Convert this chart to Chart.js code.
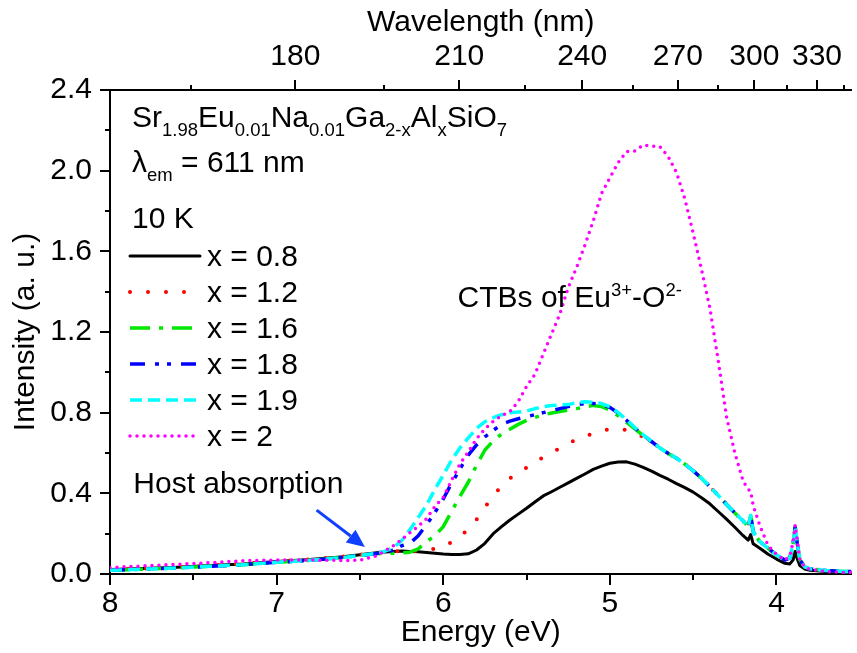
<!DOCTYPE html>
<html><head><meta charset="utf-8">
<script src="https://cdn.jsdelivr.net/npm/chart.js@4.4.1/dist/chart.umd.min.js"></script>
<style>html,body{margin:0;padding:0;background:#fff;}#wrap{width:857px;height:653px;}</style>
</head><body><div id="wrap"><canvas id="c" width="857" height="653"></canvas></div>
<script>
// ---------- data ----------
const energy = [8.0,7.8,7.6,7.4,7.2,7.0,6.8,6.6,6.5,6.4,6.35,6.3,6.25,6.2,6.15,6.1,6.05,6.0,5.95,5.9,5.85,5.8,5.75,5.7,5.65,5.6,5.55,5.5,5.45,5.4,5.35,5.3,5.25,5.2,5.15,5.1,5.05,5.0,4.95,4.9,4.85,4.8,4.75,4.7,4.65,4.6,4.55,4.5,4.45,4.4,4.35,4.3,4.25,4.2,4.17,4.155,4.14,4.1,4.05,4.0,3.95,3.92,3.9,3.888,3.875,3.86,3.83,3.8,3.7,3.6,3.55];

const intensityX08 = [0.022,0.027,0.034,0.042,0.05,0.062,0.072,0.085,0.095,0.105,0.109,0.112,0.114,0.112,0.11,0.107,0.103,0.099,0.097,0.097,0.1,0.119,0.152,0.2,0.235,0.268,0.297,0.326,0.357,0.387,0.408,0.43,0.452,0.474,0.496,0.519,0.535,0.549,0.555,0.556,0.545,0.529,0.51,0.489,0.47,0.448,0.428,0.406,0.378,0.348,0.31,0.272,0.232,0.19,0.168,0.195,0.15,0.128,0.098,0.074,0.053,0.05,0.07,0.112,0.075,0.042,0.024,0.018,0.012,0.008,0.007];

const intensityX12 = [0.022,0.027,0.034,0.043,0.051,0.063,0.073,0.086,0.096,0.105,0.109,0.112,0.113,0.113,0.115,0.118,0.125,0.137,0.158,0.185,0.222,0.27,0.33,0.39,0.435,0.474,0.505,0.527,0.553,0.58,0.602,0.623,0.646,0.668,0.683,0.696,0.71,0.719,0.72,0.714,0.70,0.68,0.655,0.625,0.598,0.574,0.545,0.512,0.475,0.433,0.39,0.345,0.303,0.263,0.235,0.29,0.21,0.16,0.127,0.094,0.069,0.08,0.15,0.235,0.15,0.07,0.035,0.026,0.017,0.013,0.012];

const intensityX16 = [0.018,0.024,0.03,0.038,0.046,0.058,0.068,0.082,0.092,0.1,0.102,0.103,0.104,0.108,0.125,0.16,0.19,0.235,0.31,0.385,0.455,0.54,0.615,0.66,0.694,0.718,0.742,0.762,0.776,0.79,0.798,0.806,0.813,0.82,0.828,0.836,0.83,0.813,0.785,0.752,0.72,0.686,0.655,0.625,0.598,0.574,0.545,0.512,0.475,0.433,0.39,0.345,0.303,0.263,0.235,0.29,0.21,0.16,0.127,0.094,0.069,0.08,0.15,0.235,0.15,0.07,0.035,0.026,0.017,0.013,0.012];

const intensityX18 = [0.018,0.024,0.03,0.038,0.046,0.058,0.068,0.082,0.092,0.102,0.108,0.118,0.14,0.152,0.19,0.245,0.305,0.372,0.45,0.52,0.59,0.64,0.68,0.712,0.742,0.758,0.77,0.78,0.79,0.8,0.81,0.82,0.83,0.84,0.845,0.846,0.838,0.826,0.798,0.762,0.724,0.688,0.657,0.625,0.598,0.574,0.545,0.512,0.475,0.433,0.39,0.345,0.303,0.263,0.235,0.29,0.21,0.16,0.127,0.094,0.069,0.08,0.15,0.235,0.15,0.07,0.035,0.026,0.017,0.013,0.012];

const intensityX19 = [0.018,0.024,0.03,0.038,0.046,0.058,0.068,0.082,0.092,0.103,0.113,0.13,0.165,0.22,0.28,0.342,0.42,0.49,0.565,0.625,0.675,0.722,0.755,0.775,0.79,0.8,0.803,0.808,0.82,0.83,0.835,0.838,0.84,0.85,0.854,0.852,0.845,0.83,0.8,0.765,0.726,0.69,0.658,0.625,0.598,0.574,0.545,0.512,0.475,0.433,0.39,0.345,0.303,0.263,0.235,0.29,0.21,0.16,0.127,0.094,0.069,0.08,0.15,0.235,0.15,0.07,0.035,0.026,0.017,0.013,0.012];

const intensityX20 = [0.032,0.04,0.048,0.056,0.066,0.069,0.069,0.067,0.068,0.09,0.115,0.14,0.17,0.205,0.237,0.275,0.335,0.38,0.465,0.545,0.605,0.67,0.72,0.757,0.785,0.805,0.855,0.93,0.99,1.09,1.19,1.29,1.42,1.52,1.63,1.75,1.887,1.965,2.04,2.095,2.098,2.127,2.122,2.12,2.07,1.99,1.86,1.69,1.51,1.32,1.06,0.78,0.6,0.46,0.42,0.41,0.34,0.24,0.14,0.098,0.068,0.09,0.16,0.243,0.16,0.07,0.033,0.024,0.012,0.008,0.007];

const seriesLabels = ['x = 0.8','x = 1.2','x = 1.6','x = 1.8','x = 1.9','x = 2'];
const seriesValues = [intensityX08,intensityX12,intensityX16,intensityX18,intensityX19,intensityX20];

const energyTicks = [8,7,6,5,4];
const energyMinorTicks = [7.5,6.5,5.5,4.5];
const intensityTicks = [0,0.4,0.8,1.2,1.6,2.0,2.4];
const intensityMinorTicks = [0.2,0.6,1.0,1.4,1.8,2.2];
const wavelengthTicks = [180,210,240,270,300,330];
const wavelengthMinorTicks = [165,195,225,255,285,315,345];
const HC = 1239.84; // eV·nm

// ---------- styles ----------
const FONT = '"Liberation Sans", Arial, sans-serif';
const FS = 30, SUB = 18.5;
const styles = [
  {color:'#000000', width:3,   dash:[],                cap:'round'},
  {color:'#ff0000', width:4,   dash:[0,18],            cap:'round'},
  {color:'#00e800', width:3.5, dash:[20,9,4,9],        cap:'butt'},
  {color:'#0000ff', width:3.5, dash:[15,10,4,8,4,10],  cap:'butt'},
  {color:'#00ffff', width:3.5, dash:[12,6],            cap:'butt'},
  {color:'#ff00ff', width:3.5, dash:[0,7],             cap:'round'}
];

const datasets = seriesValues.map((vals,i)=>({
  label: seriesLabels[i],
  data: energy.map((e,k)=>({x:e, y:vals[k]})),
  borderColor: styles[i].color,
  borderWidth: styles[i].width,
  borderDash: styles[i].dash,
  borderCapStyle: styles[i].cap,
  borderJoinStyle: 'round',
  pointRadius: 0,
  fill: false,
  tension: 0,
  order: seriesValues.length - 1 - i
}));

function drawRich(ctx, x, y, parts){
  let cx = x;
  for (const p of parts){
    const size = (p.sub||p.sup) ? SUB : FS;
    ctx.font = size + 'px ' + FONT;
    const dy = p.sub ? 9 : (p.sup ? -11 : 0);
    ctx.fillText(p.t, cx, y + dy);
    cx += ctx.measureText(p.t).width;
  }
}

const decor = {
  id: 'decor',
  afterDraw(chart){
    const ctx = chart.ctx, ca = chart.chartArea;
    const xs = chart.scales.x, ys = chart.scales.y, xt = chart.scales.x2;
    ctx.save();
    ctx.strokeStyle = '#000'; ctx.lineWidth = 2; ctx.setLineDash([]); ctx.lineCap='butt';
    const seg = (a,b,c,d)=>{ctx.beginPath();ctx.moveTo(a,b);ctx.lineTo(c,d);ctx.stroke();};
    intensityTicks.forEach(v=>{const p=Math.round(ys.getPixelForValue(v));seg(ca.left-10,p,ca.left,p);});
    intensityMinorTicks.forEach(v=>{const p=Math.round(ys.getPixelForValue(v));seg(ca.left-5,p,ca.left,p);});
    energyTicks.forEach(v=>{const p=Math.round(xs.getPixelForValue(v));seg(p,ca.bottom,p,ca.bottom+11);});
    energyMinorTicks.forEach(v=>{const p=Math.round(xs.getPixelForValue(v));seg(p,ca.bottom,p,ca.bottom+6);});
    wavelengthTicks.forEach(l=>{const p=Math.round(xt.getPixelForValue(HC/l));seg(p,ca.top-10,p,ca.top);});
    wavelengthMinorTicks.forEach(l=>{const p=Math.round(xt.getPixelForValue(HC/l));seg(p,ca.top-5,p,ca.top);});

    // text block
    ctx.fillStyle = '#000'; ctx.textBaseline = 'alphabetic'; ctx.textAlign = 'left';
    const lx = ca.left + 22;
    drawRich(ctx, lx, ca.top + 37, [
      {t:'Sr'},{t:'1.98',sub:1},{t:'Eu'},{t:'0.01',sub:1},{t:'Na'},{t:'0.01',sub:1},
      {t:'Ga'},{t:'2-x',sub:1},{t:'Al'},{t:'x',sub:1},{t:'SiO'},{t:'7',sub:1}]);
    drawRich(ctx, lx, ca.top + 82, [{t:'\u03bb'},{t:'em',sub:1},{t:' = 611 nm'}]);
    drawRich(ctx, lx, ca.top + 138, [{t:'10 K'}]);

    // legend
    seriesLabels.forEach((lab,i)=>{
      const y = ca.top + 166 + i*36;
      const s = styles[i];
      ctx.save();
      ctx.strokeStyle = s.color; ctx.lineWidth = s.width; ctx.setLineDash(s.dash); ctx.lineCap = s.cap;
      ctx.beginPath(); ctx.moveTo(lx - 2, y); ctx.lineTo(lx + 68, y); ctx.stroke();
      ctx.restore();
      ctx.font = FS + 'px ' + FONT; ctx.fillStyle = '#000';
      ctx.fillText(lab, lx + 75, y + 10);
    });

    // annotations (anchored in data coordinates)
    ctx.font = FS + 'px ' + FONT;
    ctx.fillText('Host absorption', xs.getPixelForValue(7.86), ys.getPixelForValue(0.40));
    drawRich(ctx, xs.getPixelForValue(5.914), ys.getPixelForValue(1.324),
      [{t:'CTBs of Eu'},{t:'3+',sup:1},{t:'-O'},{t:'2-',sup:1}]);

    // arrow
    const x1 = xs.getPixelForValue(6.76), y1 = ys.getPixelForValue(0.317);
    const x2 = xs.getPixelForValue(6.47), y2 = ys.getPixelForValue(0.134);
    const ang = Math.atan2(y2-y1, x2-x1), hl = 18, hw = 8;
    const bx = x2 - hl*Math.cos(ang), by = y2 - hl*Math.sin(ang);
    ctx.strokeStyle = '#1040ff'; ctx.fillStyle = '#1040ff'; ctx.lineWidth = 3;
    ctx.beginPath(); ctx.moveTo(x1,y1); ctx.lineTo(bx,by); ctx.stroke();
    ctx.beginPath(); ctx.moveTo(x2,y2);
    ctx.lineTo(bx + hw*Math.sin(ang), by - hw*Math.cos(ang));
    ctx.lineTo(bx - hw*Math.sin(ang), by + hw*Math.cos(ang));
    ctx.closePath(); ctx.fill();
    ctx.restore();
  }
};

Chart.defaults.font.family = FONT;
Chart.defaults.font.size = FS;
Chart.defaults.color = '#000';

new Chart(document.getElementById('c'), {
  type: 'line',
  data: { datasets },
  options: {
    responsive: false,
    animation: false,
    devicePixelRatio: 1,
    layout: { padding: 0 },
    plugins: { legend: {display:false}, tooltip: {enabled:false} },
    scales: {
      x: {
        type: 'linear', position: 'bottom', reverse: true, min: 3.55, max: 8,
        afterBuildTicks: s => { s.ticks = energyTicks.map(v=>({value:v})); },
        afterFit: s => { s.height = 79; },
        ticks: { padding: 12, maxRotation: 0, autoSkip: false, callback: v => String(v), color:'#000' },
        grid: { display: false, drawTicks: false },
        border: { display: true, color: '#000', width: 2 },
        title: { display: true, text: 'Energy (eV)', padding: {top:0, bottom:2}, color:'#000' }
      },
      x2: {
        type: 'linear', position: 'top', reverse: true, min: 3.55, max: 8,
        afterBuildTicks: s => { s.ticks = wavelengthTicks.map(l=>({value: HC/l})); },
        afterFit: s => { s.height = 90; },
        ticks: { padding: 15, maxRotation: 0, autoSkip: false, callback: (v,i) => String(wavelengthTicks[i]), color:'#000' },
        grid: { display: false, drawTicks: false },
        border: { display: true, color: '#000', width: 2 },
        title: { display: true, text: 'Wavelength (nm)', padding: {top:5, bottom:0}, color:'#000' }
      },
      y: {
        type: 'linear', position: 'left', min: 0, max: 2.4,
        afterBuildTicks: s => { s.ticks = intensityTicks.map(v=>({value:v})); },
        afterFit: s => { s.width = 110; },
        ticks: { padding: 18, autoSkip: false, callback: v => v.toFixed(1), color:'#000' },
        grid: { display: false, drawTicks: false },
        border: { display: true, color: '#000', width: 2 },
        title: { display: true, text: 'Intensity (a. u.)', padding: {top:8, bottom:0}, color:'#000' }
      }
    }
  },
  plugins: [decor]
});
</script></body></html>
